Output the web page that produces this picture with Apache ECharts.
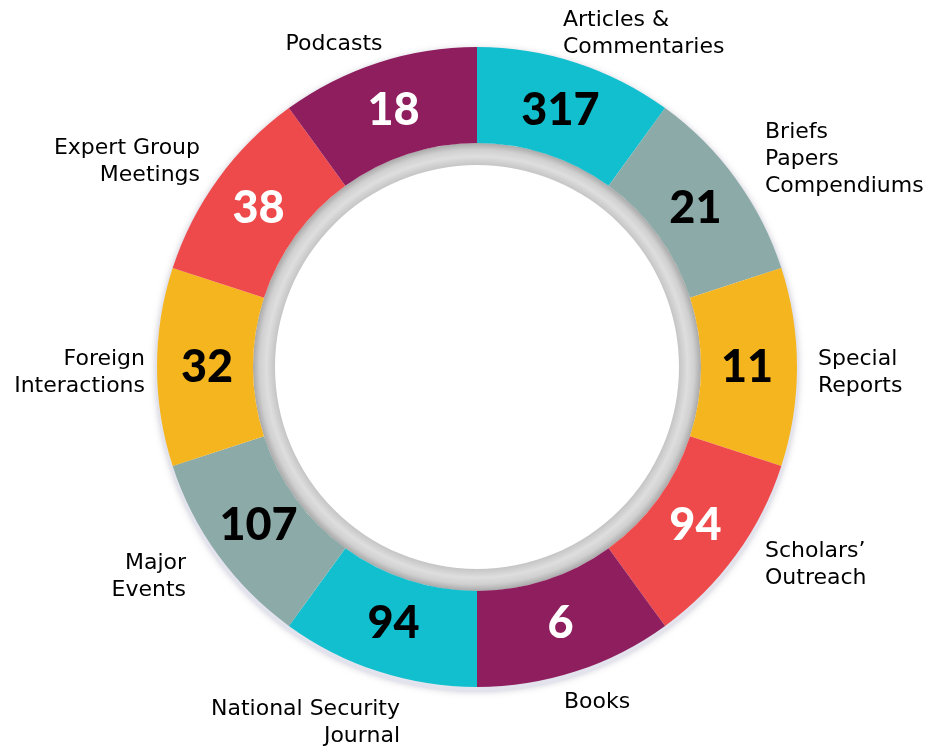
<!DOCTYPE html>
<html>
<head>
    <meta charset="UTF-8">
    <title>Activities ring</title>
    <script src="https://cdn.jsdelivr.net/npm/echarts@6/dist/echarts.min.js"></script>
    <style>
        * { margin: 0; padding: 0; }
        body { background: #fff; }
        #chart { width: 937px; height: 746px; }
    </style>
</head>
<body>
    <div id="chart"></div>
<script>
    // segments, clockwise from 12 o'clock
    var categories = ['Articles &\nCommentaries', 'Briefs\nPapers\nCompendiums', 'Special\nReports', 'Scholars\u2019\nOutreach', 'Books',
        'National Security\nJournal', 'Major\nEvents', 'Foreign\nInteractions', 'Expert Group\nMeetings', 'Podcasts'];
    var counts = [317, 21, 11, 94, 6, 94, 107, 32, 38, 18];
    var segmentSize = [1, 1, 1, 1, 1, 1, 1, 1, 1, 1];   // every segment is the same width

    var colors = ['#12bfcf', '#8caaa7', '#f5b51f', '#ef4a4b', '#8e1e5e', '#12bfcf', '#8caaa7', '#f5b51f', '#ef4a4b', '#8e1e5e'];
    var numColors = ['#000', '#000', '#000', '#fff', '#fff', '#000', '#000', '#000', '#fff', '#fff'];

    // where the outer names go (x, y of block top, align)
    var namePos = [
        [563, 7, 'left'], [765, 119, 'left'], [818, 346, 'left'], [765, 538, 'left'], [597, 689, 'center'],
        [400, 696, 'right'], [186, 550, 'right'], [145, 346, 'right'], [200, 135, 'right'], [334, 31, 'center']
    ];

    var cx = 477, cy = 367;
    var chart = echarts.init(document.getElementById('chart'));

    var option = {
        animation: false,
        series: [
            {   // soft halo under the ring
                type: 'pie', silent: true, startAngle: 90,
                center: [cx, cy + 3], radius: [300, 322],
                label: { show: false }, labelLine: { show: false },
                itemStyle: { color: '#e2e3ec', shadowColor: 'rgba(120,120,150,0.35)', shadowBlur: 6 },
                data: [1]
            },
            {   // grey inner ring
                type: 'pie', silent: true, startAngle: 90,
                center: [cx, cy], radius: [202, 224],
                label: { show: false }, labelLine: { show: false },
                itemStyle: {
                    color: new echarts.graphic.RadialGradient(0.5, 0.5, 0.5, [
                        { offset: 0.90, color: '#c4c4c4' },
                        { offset: 0.94, color: '#dedede' },
                        { offset: 0.97, color: '#d0d0d0' },
                        { offset: 1, color: '#a9a9a9' }
                    ])
                },
                data: [1]
            },
            {   // coloured segments
                type: 'pie', silent: true, startAngle: 90, clockwise: true,
                center: [cx, cy], radius: [224, 320],
                label: { show: false }, labelLine: { show: false },
                data: segmentSize.map(function (v, i) {
                    return { value: v, name: categories[i], itemStyle: { color: colors[i] } };
                })
            },
            {   // transparent copy carrying the counts, a bit nearer the middle
                type: 'pie', silent: true, startAngle: 90, clockwise: true,
                center: [cx, cy], radius: [214, 320],
                itemStyle: { color: 'rgba(0,0,0,0)' },
                labelLine: { show: false },
                label: {
                    show: true, position: 'inside',
                    fontFamily: 'Lato', fontWeight: 900, fontSize: 45
                },
                data: segmentSize.map(function (v, i) {
                    return {
                        value: v, name: String(counts[i]),
                        label: { color: numColors[i], formatter: String(counts[i]) }
                    };
                })
            },
            {   // transparent copy that carries the names
                type: 'pie', silent: true, startAngle: 90, clockwise: true,
                center: [cx, cy], radius: [224, 320],
                itemStyle: { color: 'rgba(0,0,0,0)' },
                labelLine: { show: false },
                label: {
                    show: true, position: 'outside', formatter: '{b}', overflow: 'none', width: 300,
                    fontFamily: 'DejaVu Sans', fontSize: 22, lineHeight: 27, color: '#000'
                },
                labelLayout: function (p) {
                    var q = namePos[p.dataIndex];
                    return { x: q[0], y: q[1], align: q[2], verticalAlign: 'top', hideOverlap: false, moveOverlap: null };
                },
                data: segmentSize.map(function (v, i) {
                    return { value: v, name: categories[i], label: { align: namePos[i][2] } };
                })
            }
        ]
    };

    chart.setOption(option);
</script>
</body>
</html>
